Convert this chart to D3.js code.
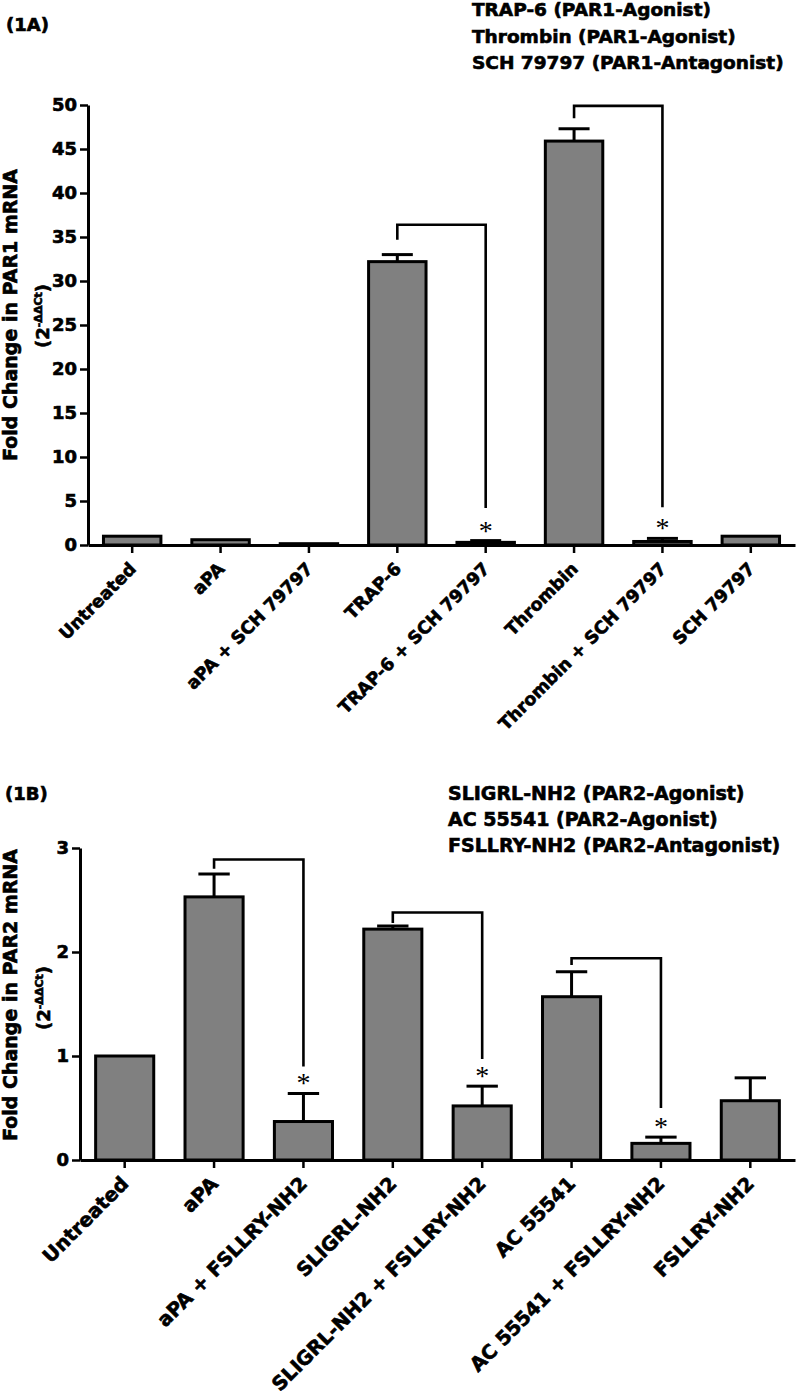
<!DOCTYPE html>
<html><head><meta charset="utf-8">
<script src="https://cdn.jsdelivr.net/npm/d3@7"></script>
<style>
body{margin:0;background:#fff;}
svg{display:block;}
text{font-family:"DejaVu Sans",sans-serif;font-weight:bold;fill:#000;stroke:#000;stroke-width:0.65px;}
text.star{stroke:none;}
</style></head><body>
<svg id="chart" width="797" height="1396"></svg>
<script>
// ---------- Panel 1A data ----------
const categoriesA = ["Untreated","aPA","aPA + SCH 79797","TRAP-6","TRAP-6 + SCH 79797","Thrombin","Thrombin + SCH 79797","SCH 79797"];
const meansA  = [1.0, 0.6, 0.15, 32.2, 0.3, 45.9, 0.4, 1.0];
const errorsA = [0, 0, 0, 0.8, 0.2, 1.4, 0.35, 0];
const ticksA  = [0,5,10,15,20,25,30,35,40,45,50];
const legendA = ["TRAP-6 (PAR1-Agonist)","Thrombin (PAR1-Agonist)","SCH 79797 (PAR1-Antagonist)"];
const bracketFromA = [3, 5];
const bracketToA   = [4, 6];
const bracketTopA  = [36.4, 49.9];
const bracketLeftEndA  = [34.7, 48.5];
const bracketRightEndA = [4.2, 4.3];
const starsA = [4, 6];

// ---------- Panel 1B data ----------
const categoriesB = ["Untreated","aPA","aPA + FSLLRY-NH2","SLIGRL-NH2","SLIGRL-NH2 + FSLLRY-NH2","AC 55541","AC 55541 + FSLLRY-NH2","FSLLRY-NH2"];
const meansB  = [1.0, 2.53, 0.37, 2.22, 0.52, 1.57, 0.16, 0.57];
const errorsB = [0, 0.22, 0.27, 0.03, 0.19, 0.24, 0.06, 0.22];
const ticksB  = [0,1,2,3];
const legendB = ["SLIGRL-NH2 (PAR2-Agonist)","AC 55541 (PAR2-Agonist)","FSLLRY-NH2 (PAR2-Antagonist)"];
const bracketFromB = [1, 3, 5];
const bracketToB   = [2, 4, 6];
const bracketTopB  = [2.89, 2.38, 1.94];
const bracketLeftEndB  = [2.80, 2.28, 1.875];
const bracketRightEndB = [0.90, 0.97, 0.50];
const starsB = [2, 4, 6];

const svg = d3.select("#chart");

function drawPanel(o){
  const g = svg.append("g");
  const x = d3.scaleBand().domain(o.cats).range([o.x0, o.x1]).padding(0);
  const y = o.y;
  const bw = x.step()*0.65;
  const cx = i => x(o.cats[i]) + x.bandwidth()/2;

  // bars
  g.selectAll("rect.bar").data(o.means).join("rect")
    .attr("x",(d,i)=>cx(i)-bw/2).attr("width",bw)
    .attr("y",d=>y(d)).attr("height",d=>y(0)-y(d))
    .attr("fill","#808080").attr("stroke","#000").attr("stroke-width",3);

  // error bars
  const eb = o.means.map((m,i)=>({m:m,e:o.errs[i],i:i})).filter(d=>d.e>0);
  g.selectAll("line.err").data(eb).join("line")
    .attr("x1",d=>cx(d.i)).attr("x2",d=>cx(d.i))
    .attr("y1",d=>y(d.m)).attr("y2",d=>y(d.m+d.e))
    .attr("stroke","#000").attr("stroke-width",3);
  g.selectAll("line.cap").data(eb).join("line")
    .attr("x1",d=>cx(d.i)-bw*0.27).attr("x2",d=>cx(d.i)+bw*0.27)
    .attr("y1",d=>y(d.m+d.e)).attr("y2",d=>y(d.m+d.e))
    .attr("stroke","#000").attr("stroke-width",3);

  // brackets
  o.bFrom.forEach((f,k)=>{
    const t = o.bTo[k];
    const p = d3.path();
    p.moveTo(cx(f), y(o.bLeft[k]));
    p.lineTo(cx(f), y(o.bTop[k]));
    p.lineTo(cx(t), y(o.bTop[k]));
    p.lineTo(cx(t), y(o.bRight[k]));
    g.append("path").attr("d",p.toString()).attr("fill","none")
      .attr("stroke","#000").attr("stroke-width",2.6);
  });

  // stars
  o.stars.forEach(i=>{
    const cy = y(o.means[i]+o.errs[i]) - 14;
    g.append("text").attr("class","star").attr("x",cx(i)).attr("y",cy+13)
      .attr("text-anchor","middle")
      .style("font-family","'Liberation Serif',serif").style("font-weight","normal")
      .style("font-size","28px").text("*");
  });

  // y axis
  const ya = g.append("g").attr("transform",`translate(${o.x0},0)`)
    .call(d3.axisLeft(y).tickValues(o.ticks).tickSize(8).tickSizeOuter(0).tickPadding(3).tickFormat(d3.format("d")));
  ya.select(".domain").attr("stroke-width",3);
  ya.selectAll(".tick line").attr("stroke-width",2.5);
  ya.selectAll(".tick text").style("font-family","'DejaVu Sans',sans-serif").style("font-weight","bold").style("font-size","18px");

  // x axis
  const xa = g.append("g").attr("transform",`translate(0,${y(0)})`)
    .call(d3.axisBottom(x).tickSize(8).tickSizeOuter(0).tickFormat(""));
  xa.select(".domain").attr("stroke-width",3);
  xa.selectAll(".tick line").attr("stroke-width",2.5);

  // x labels rotated 45 degrees
  g.selectAll("text.xl").data(o.cats).join("text")
    .attr("text-anchor","end")
    .attr("transform",(d,i)=>`translate(${cx(i)+5},${y(0)+25}) rotate(-45)`)
    .style("font-size",o.xFs+"px").text(d=>d);

  // y title
  g.append("text").attr("transform",`translate(${o.titleX},${o.titleY}) rotate(-90)`)
    .attr("text-anchor","middle").style("font-size","19px").text(o.title);
  const sub = g.append("text").attr("transform",`translate(${o.subX},${o.subY}) rotate(-90)`)
    .attr("text-anchor","middle").style("font-size","18px");
  sub.append("tspan").text("(2");
  sub.append("tspan").attr("dy",-7).style("font-size","11px").text("-ΔΔCt");
  sub.append("tspan").attr("dy",7).text(")");

  // panel label
  g.append("text").attr("x",o.labX).attr("y",o.labY).style("font-size","18px").text(o.lab);

  // legend
  g.selectAll("text.lg").data(o.legend).join("text")
    .attr("x",o.legX).attr("y",(d,i)=>o.legY+i*o.legDy)
    .style("font-size",o.legFs+"px").text(d=>d);
}

drawPanel({
  cats:categoriesA, means:meansA, errs:errorsA, ticks:ticksA,
  x0:88, x1:795, y:d3.scaleLinear().domain([0,50]).range([545,105]),
  bFrom:bracketFromA, bTo:bracketToA, bTop:bracketTopA, bLeft:bracketLeftEndA, bRight:bracketRightEndA,
  stars:starsA, xFs:17.5,
  title:"Fold Change in PAR1 mRNA", titleX:17, titleY:315, subX:49, subY:316,
  lab:"(1A)", labX:6, labY:31,
  legend:legendA, legX:472, legY:16, legDy:26.5, legFs:18.5
});

drawPanel({
  cats:categoriesB, means:meansB, errs:errorsB, ticks:ticksB,
  x0:80, x1:795, y:d3.scaleLinear().domain([0,3]).range([1160,848]),
  bFrom:bracketFromB, bTo:bracketToB, bTop:bracketTopB, bLeft:bracketLeftEndB, bRight:bracketRightEndB,
  stars:starsB, xFs:19.5,
  title:"Fold Change in PAR2 mRNA", titleX:17, titleY:995, subX:50, subY:998,
  lab:"(1B)", labX:5, labY:800,
  legend:legendB, legX:448, legY:800, legDy:26, legFs:19
});
</script>
</body></html>
